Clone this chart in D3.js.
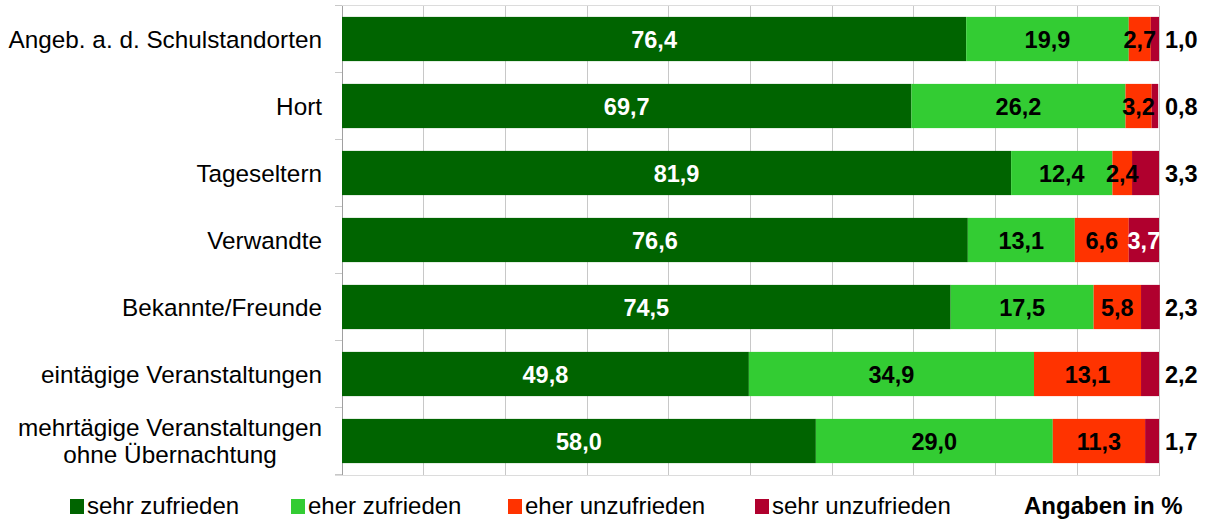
<!DOCTYPE html>
<html><head><meta charset="utf-8">
<script src="https://cdn.jsdelivr.net/npm/d3@7"></script>
<style>
body{margin:0;background:#fff;}
svg{display:block;font-family:"Liberation Sans",Arial,Helvetica,sans-serif;}
</style></head>
<body><svg id="c" width="1206" height="519"></svg>
<script>
const categories = ["Angeb. a. d. Schulstandorten","Hort","Tageseltern","Verwandte","Bekannte/Freunde","eintägige Veranstaltungen","mehrtägige Veranstaltungen|ohne Übernachtung"];
const seriesNames = ["sehr zufrieden","eher zufrieden","eher unzufrieden","sehr unzufrieden"];
const sehrZufrieden   = [76.4, 69.7, 81.9, 76.6, 74.5, 49.8, 58.0];
const eherZufrieden   = [19.9, 26.2, 12.4, 13.1, 17.5, 34.9, 29.0];
const eherUnzufrieden = [2.7, 3.2, 2.4, 6.6, 5.8, 13.1, 11.3];
const sehrUnzufrieden = [1.0, 0.8, 3.3, 3.7, 2.3, 2.2, 1.7];
const xTicks = [0,10,20,30,40,50,60,70,80,90,100];
const unitLabel = "Angaben in %";

const colors = ["#006400","#33CC33","#FF3300","#B0002E"];
const labelColors = ["#fff","#000","#000","#fff"];
const series = [sehrZufrieden, eherZufrieden, eherUnzufrieden, sehrUnzufrieden];

const svg = d3.select("#c");
const x = d3.scaleLinear().domain([0,100]).range([342,1159]);
const y = d3.scaleBand().domain(categories).range([5.5,474.5]).paddingInner(0.34).paddingOuter(0.17);
const step = y.step();

// gridlines
svg.append("g").selectAll("line").data(xTicks).join("line")
  .attr("x1", d=>x(d)).attr("x2", d=>x(d))
  .attr("y1", 5.5).attr("y2", 476)
  .attr("stroke", d=> d===0 ? "#a0a0a0" : "#c8c8c8").attr("stroke-width", 1)
  .attr("shape-rendering","crispEdges");
// top & bottom lines
svg.append("line").attr("x1",335).attr("x2",1159).attr("y1",5.5).attr("y2",5.5).attr("stroke","#dcdcdc").attr("shape-rendering","crispEdges");
svg.append("line").attr("x1",335).attr("x2",1159).attr("y1",475).attr("y2",475).attr("stroke","#dcdcdc").attr("shape-rendering","crispEdges");
// category ticks
const bounds = d3.range(categories.length+1).map(i => 5.5 + i*step);
svg.append("g").selectAll("line").data(bounds).join("line")
  .attr("x1",335).attr("x2",342).attr("y1",d=>d).attr("y2",d=>d)
  .attr("stroke","#c8c8c8").attr("shape-rendering","crispEdges");

// stacked data
const rows = categories.map((c,i) => {
  let acc = 0;
  return series.map((s,k) => { const v = s[i]; const o = {cat:c, k, v, x0:acc, x1:acc+v}; acc += v; return o; });
});

const gBars = svg.append("g");
rows.forEach(r => {
  gBars.selectAll(null).data(r).join("rect")
    .attr("x", d=>x(d.x0)).attr("width", d=>x(d.x1)-x(d.x0))
    .attr("y", d=>y(d.cat)).attr("height", y.bandwidth())
    .attr("fill", d=>colors[d.k]);
});

const fmt = v => v.toFixed(1).replace(".", ",");
const gLab = svg.append("g").attr("font-weight","bold").attr("font-size",23.5);
rows.forEach(r => {
  r.forEach(d => {
    const outside = d.k===3 && d.v < 3.5;
    const cy = y(d.cat) + y.bandwidth()/2;
    gLab.append("text")
      .attr("x", outside ? 1165 : (x(d.x0)+x(d.x1))/2)
      .attr("y", cy)
      .attr("dy","0.38em")
      .attr("text-anchor", outside ? "start" : "middle")
      .attr("fill", outside ? "#000" : labelColors[d.k])
      .text(fmt(d.v));
  });
});

// category labels
const gCat = svg.append("g").attr("font-size",24.3).attr("fill","#000");
categories.forEach(c => {
  const lines = c.split("|");
  const cy = y(c) + y.bandwidth()/2;
  if (lines.length === 1) {
    gCat.append("text").attr("x",322).attr("y",cy).attr("dy","0.36em").attr("text-anchor","end").text(lines[0]);
  } else {
    const t1 = gCat.append("text").attr("x",322).attr("y",cy-13.5).attr("dy","0.36em").attr("text-anchor","end").text(lines[0]);
    const w = t1.node().getComputedTextLength();
    const mid = 322 - w/2;
    gCat.append("text").attr("x",mid).attr("y",cy+13.5).attr("dy","0.36em").attr("text-anchor","middle").text(lines[1]);
  }
});

// legend
const legX = [70, 291, 508, 755];
const gLeg = svg.append("g").attr("font-size",24);
seriesNames.forEach((n,i) => {
  gLeg.append("rect").attr("x",legX[i]).attr("y",499).attr("width",14).attr("height",15).attr("fill",colors[i]);
  gLeg.append("text").attr("x",legX[i]+17).attr("y",513.5).text(n);
});
svg.append("text").attr("x",1024).attr("y",513.5).attr("font-size",24).attr("font-weight","bold").text(unitLabel);
</script>
</body></html>
